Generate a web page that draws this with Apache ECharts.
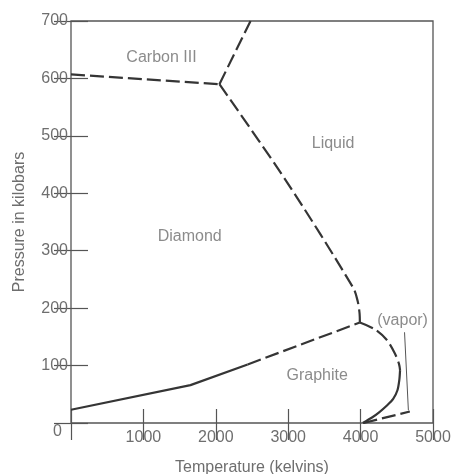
<!DOCTYPE html>
<html>
<head>
<meta charset="utf-8">
<script src="https://cdn.jsdelivr.net/npm/echarts@6/dist/echarts.min.js"></script>
<style>
  html, body { margin: 0; padding: 0; background: #fff; }
  #chart { width: 452px; height: 474px; }
</style>
</head>
<body>
<div id="chart"></div>
<script>
// phase boundaries of carbon, [temperature K, pressure kbar]
var carbon3Diamond = [[0, 607], [2050, 590]];
var carbon3Liquid = [[2050, 590], [2480, 700]];
var diamondLiquid = [[2050, 590], [2980, 420], [3900, 235], [3960, 212], [3985, 192], [3990, 175]];
var diamondGraphiteSolid = [[0, 23], [1650, 66], [2440, 102]];
var diamondGraphiteDashed = [[2440, 102], [3990, 175]];
var graphiteLiquidDashed = [[3990, 175], [4200, 163], [4360, 145], [4470, 122], [4530, 103], [4545, 92]];
var graphiteLiquidSolid = [[4545, 92], [4535, 75], [4509, 57], [4450, 42], [4360, 30], [4260, 19], [4163, 10], [4030, 0]];
var graphiteVapor = [[4040, 0], [4680, 20]];
var vaporArrow = [[4607, 158], [4660, 22]];

var regionNames = ['Carbon III', 'Liquid', 'Diamond', 'Graphite', '(vapor)'];
var regionPos = [[1250, 637], [3620, 487], [1640, 324], [3400, 82], [4580, 178]];

var xTicks = [0, 1000, 2000, 3000, 4000, 5000];
var yTicks = [0, 100, 200, 300, 400, 500, 600, 700];

var lineColor = '#353535';
var textColor = '#6e6e6e';
var font = 'Liberation Sans';

function boundary(data, dashed, curved) {
  return {
    type: 'line',
    data: data,
    symbol: 'none',
    smooth: curved ? 0.3 : false,
    silent: true,
    lineStyle: { color: lineColor, width: 2.2, type: dashed ? [14, 5] : 'solid' }
  };
}

var chart = echarts.init(document.getElementById('chart'));
var option = {
  animation: false,
  grid: { left: 71, right: 19, top: 21, bottom: 51, outerBoundsMode: 'none', containLabel: false,
    show: true, borderColor: '#555', borderWidth: 1.3 },
  xAxis: [{
    type: 'value', min: xTicks[0], max: xTicks[xTicks.length - 1], interval: 1000,
    name: 'Temperature (kelvins)', nameLocation: 'middle', nameGap: 37,
    nameTextStyle: { color: textColor, fontSize: 16, fontFamily: font },
    axisLine: { show: false },
    axisTick: { inside: true, length: 14, lineStyle: { color: '#555', width: 1.2 } },
    axisLabel: { color: textColor, fontSize: 16, fontFamily: font, margin: 7,
      formatter: function (v) { return v === 0 ? '' : String(v); } },
    splitLine: { show: false }
  }, {
    type: 'value', position: 'top', min: 0, max: 5000, interval: 1000,
    axisLine: { show: false },
    axisTick: { inside: true, length: 17, lineStyle: { color: '#555', width: 1.2 } },
    axisLabel: { show: false }, splitLine: { show: false }
  }],
  yAxis: [{
    type: 'value', min: yTicks[0], max: yTicks[yTicks.length - 1], interval: 100,
    name: 'Pressure in kilobars', nameLocation: 'middle', nameGap: 43,
    nameTextStyle: { color: textColor, fontSize: 16, fontFamily: font },
    axisLine: { show: false },
    axisTick: { inside: true, length: 17, lineStyle: { color: '#555', width: 1.2 } },
    axisLabel: { color: textColor, fontSize: 16, fontFamily: font, margin: 3, lineHeight: 18,
      formatter: function (v) { return v === 0 ? '\n{z|0}' : String(v); },
      rich: { z: { color: textColor, fontSize: 16, fontFamily: font, lineHeight: 18, padding: [0, 6, 0, 0] } } },
    splitLine: { show: false }
  }, {
    type: 'value', position: 'right', min: 0, max: 700, interval: 100,
    axisLine: { show: false },
    axisTick: { inside: true, length: 17, lineStyle: { color: '#555', width: 1.2 } },
    axisLabel: { show: false }, splitLine: { show: false }
  }],
  series: [
    boundary(carbon3Diamond, true, false),
    boundary(carbon3Liquid, true, false),
    boundary(diamondLiquid, true, true),
    boundary(diamondGraphiteSolid, false, false),
    boundary(diamondGraphiteDashed, true, false),
    boundary(graphiteLiquidDashed, true, true),
    boundary(graphiteLiquidSolid, false, true),
    boundary(graphiteVapor, true, false),
    {
      type: 'line', data: [], symbol: 'none', silent: true,
      markLine: {
        silent: true, symbol: ['none', 'arrow'], symbolSize: [0, 8],
        label: { show: false },
        lineStyle: { color: '#555', width: 1, type: 'solid' },
        data: [[{ coord: vaporArrow[0] }, { coord: vaporArrow[1] }]]
      }
    },
    {
      type: 'scatter', symbolSize: 0, silent: true,
      data: regionPos.map(function (p, i) { return { value: p, name: regionNames[i] }; }),
      label: { show: true, position: 'inside', formatter: '{b}', color: textColor, fontSize: 16, fontFamily: font }
    }
  ]
};
chart.setOption(option);
window.onresize = function () { chart.resize(); };
</script>
</body>
</html>
